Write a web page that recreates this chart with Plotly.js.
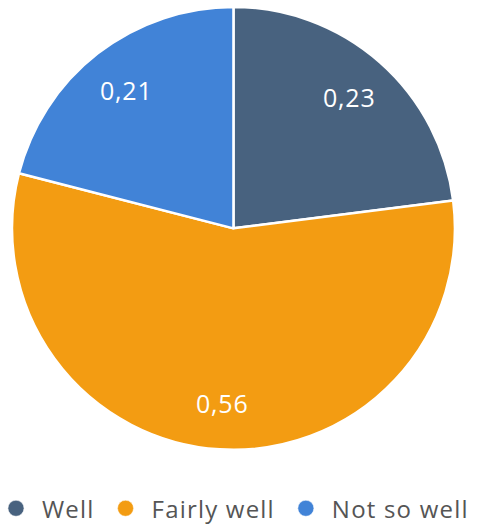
<!DOCTYPE html>
<html>
<head>
<meta charset="utf-8">
<script src="https://cdn.plot.ly/plotly-3.0.1.min.js"></script>
<style>
html,body{margin:0;padding:0;background:#fff;}
#chart{width:501px;height:528px;}
.legendtext{letter-spacing:1.2px;}
.annotation-text{letter-spacing:0.8px;}
</style>
</head>
<body>
<div id="chart"></div>
<script>
const categories = ["Well", "Fairly well", "Not so well"];
const values = [0.23, 0.56, 0.21];
const colors = ["#48627f", "#f39c12", "#4183d7"];

const W = 501, H = 528;
const dom = {x: [0.024, 0.908], y: [0.148, 0.987]};
const FONT = "'Open Sans', sans-serif";

const pie = {
  type: "pie",
  labels: categories,
  values: values,
  sort: false,
  direction: "clockwise",
  rotation: 0,
  marker: {colors: colors, line: {color: "#ffffff", width: 2.5}},
  textinfo: "none",
  showlegend: false,
  hoverinfo: "label+value",
  domain: dom
};

// label positions derived from the slice mid-angles
const total = values.reduce((a, b) => a + b, 0);
const cxPx = (dom.x[0] + dom.x[1]) / 2 * W;
const cyPx = (1 - (dom.y[0] + dom.y[1]) / 2) * H;
const Rpx = Math.min((dom.x[1] - dom.x[0]) * W, (dom.y[1] - dom.y[0]) * H) / 2;
let cum = 0;
const annotations = values.map((v) => {
  const mid = (cum + v / 2) / total * 2 * Math.PI;
  cum += v;
  const r = 0.79 * Rpx;
  const px = cxPx + r * Math.sin(mid);
  const py = cyPx - r * Math.cos(mid);
  return {
    xref: "paper", yref: "paper",
    x: px / W, y: 1 - py / H,
    xanchor: "center", yanchor: "middle",
    showarrow: false,
    text: v.toFixed(2).replace(".", ","),
    font: {color: "#ffffff", size: 25, family: FONT}
  };
});

const legendTraces = categories.map((c, i) => ({
  type: "scatter",
  mode: "markers",
  x: [null], y: [null],
  name: c,
  marker: {color: colors[i], size: 16, line: {color: "#ffffff", width: 0.5}},
  showlegend: true,
  hoverinfo: "skip"
}));

const layout = {
  width: W, height: H,
  margin: {l: 0, r: 0, t: 0, b: 0, autoexpand: false},
  paper_bgcolor: "#ffffff",
  plot_bgcolor: "#ffffff",
  font: {family: FONT, color: "#555555"},
  xaxis: {visible: false},
  yaxis: {visible: false},
  annotations: annotations,
  showlegend: true,
  legend: {
    orientation: "h",
    x: -0.02, xanchor: "left",
    y: -0.006, yanchor: "bottom",
    font: {size: 24, color: "#555555", family: FONT},
    itemsizing: "trace",
    itemwidth: 42,
    tracegroupgap: 0
  }
};

Plotly.newPlot("chart", [pie].concat(legendTraces), layout, {displayModeBar: false, staticPlot: true});
</script>
</body>
</html>
